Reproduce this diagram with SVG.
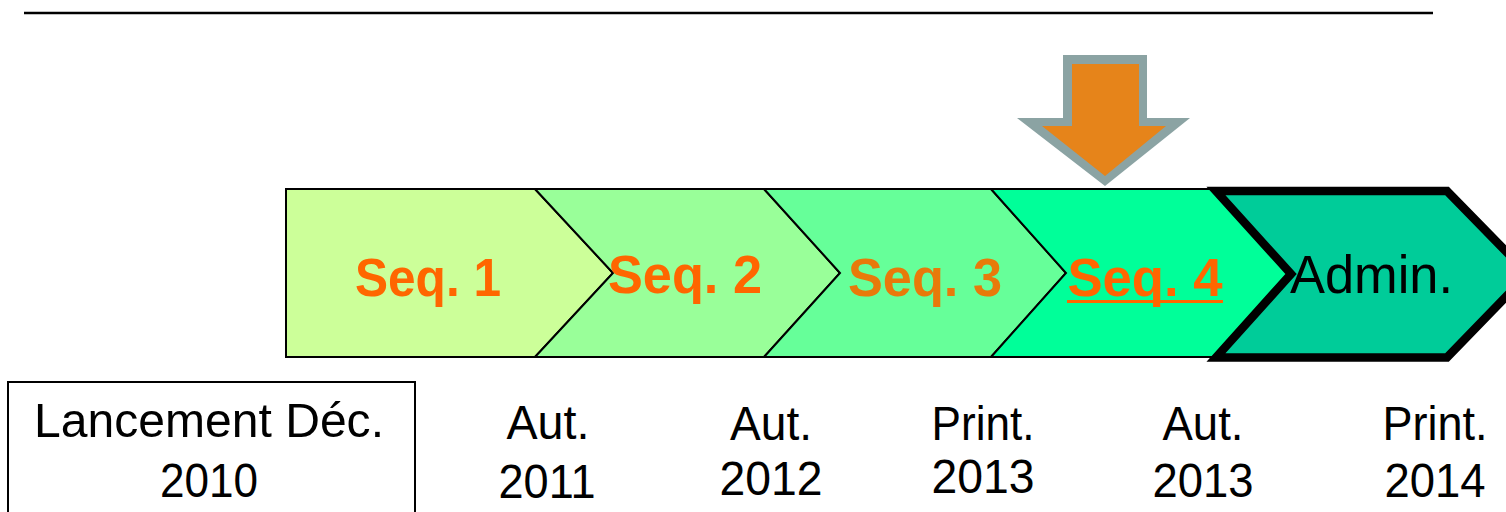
<svg xmlns="http://www.w3.org/2000/svg" width="1506" height="512" viewBox="0 0 1506 512">
<style>
.chev{stroke:#000;stroke-width:2;stroke-linejoin:miter}
.seq{font-family:"Liberation Sans",Arial,sans-serif;font-weight:bold;font-size:54px;text-anchor:middle}
.lbl{font-family:"Liberation Sans",Arial,sans-serif;font-size:48px;fill:#000;text-anchor:middle}
</style>
<rect width="1506" height="512" fill="#fff"/>
<line x1="24" y1="13" x2="1433" y2="13" stroke="#000" stroke-width="2.5"/>
<g id="seq1">
<polygon class="chev" fill="#ccff99" points="286,189 535,189 613,273 535,357 286,357"/>
<text class="seq" x="428" y="296" fill="#ff6600" textLength="146" lengthAdjust="spacingAndGlyphs">Seq. 1</text>
</g>
<g id="seq2">
<polygon class="chev" fill="#99ff99" points="535,189 764,189 840,273 764,357 535,357 613,273"/>
<text class="seq" x="685" y="293" fill="#ff6600" textLength="154" lengthAdjust="spacingAndGlyphs">Seq. 2</text>
</g>
<g id="seq3">
<polygon class="chev" fill="#66ff99" points="764,189 991,189 1066,273 991,357 764,357 840,273"/>
<text class="seq" x="925" y="296" fill="#e87a0a" textLength="154" lengthAdjust="spacingAndGlyphs">Seq. 3</text>
</g>
<g id="seq4">
<polygon class="chev" fill="#00ff99" points="991,189 1215,189 1291,273 1215,357 991,357 1066,273"/>
<text class="seq" x="1145" y="296" fill="#ff6600" textLength="155" lengthAdjust="spacingAndGlyphs">Seq. 4</text>
<line x1="1067" y1="301.5" x2="1223" y2="301.5" stroke="#ff6600" stroke-width="3"/>
</g>
<g id="admin">
<polygon fill="#00cc99" stroke="#000" stroke-width="8.5" stroke-linejoin="miter" points="1216,191 1447,191 1528,274 1447,357.5 1216,357.5 1291,274"/>
<text x="1290" y="293" font-family="Liberation Sans,Arial,sans-serif" font-size="53" fill="#000" textLength="163" lengthAdjust="spacingAndGlyphs">Admin.</text>
</g>
<g id="pointer">
<polygon fill="#8ba3a3" points="1063,55 1147,55 1147,118 1190,118 1105,186 1017,118 1063,118"/>
<polygon fill="#e6841a" points="1072,64 1139,64 1139,126 1166,126 1105,176 1042,126 1072,126"/>
</g>
<g id="launch">
<rect x="8" y="382" width="407" height="140" fill="none" stroke="#000" stroke-width="2"/>
<text class="lbl" x="209" y="437" font-size="49" textLength="350" lengthAdjust="spacingAndGlyphs">Lancement Déc.</text>
<text class="lbl" x="209" y="497" font-size="49" textLength="98" lengthAdjust="spacingAndGlyphs">2010</text>
</g>
<g id="d2011">
<text class="lbl" x="548" y="439" textLength="83" lengthAdjust="spacingAndGlyphs">Aut.</text>
<text class="lbl" x="547" y="498" textLength="97" lengthAdjust="spacingAndGlyphs">2011</text>
</g>
<g id="d2012">
<text class="lbl" x="771" y="440" textLength="82" lengthAdjust="spacingAndGlyphs">Aut.</text>
<text class="lbl" x="771" y="495" textLength="103" lengthAdjust="spacingAndGlyphs">2012</text>
</g>
<g id="d2013p">
<text class="lbl" x="983" y="440" textLength="103" lengthAdjust="spacingAndGlyphs">Print.</text>
<text class="lbl" x="983" y="493" textLength="103" lengthAdjust="spacingAndGlyphs">2013</text>
</g>
<g id="d2013a">
<text class="lbl" x="1203" y="440" textLength="81" lengthAdjust="spacingAndGlyphs">Aut.</text>
<text class="lbl" x="1203" y="497" textLength="101" lengthAdjust="spacingAndGlyphs">2013</text>
</g>
<g id="d2014">
<text class="lbl" x="1435" y="440" textLength="105" lengthAdjust="spacingAndGlyphs">Print.</text>
<text class="lbl" x="1435" y="497" textLength="101" lengthAdjust="spacingAndGlyphs">2014</text>
</g>
<g id="connectors"/>
</svg>
